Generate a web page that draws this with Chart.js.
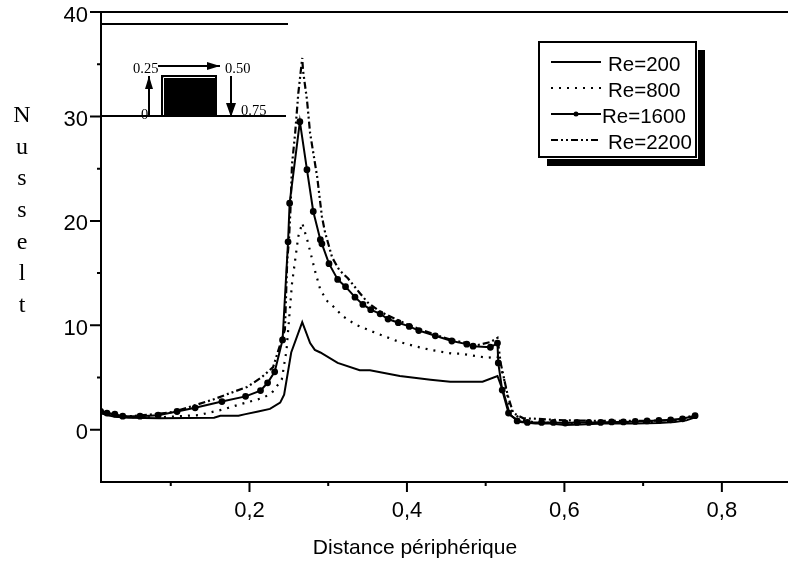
<!DOCTYPE html>
<html>
<head>
<meta charset="utf-8">
<style>body{margin:0;background:#fff}canvas{display:block}</style>
<script src="https://cdn.jsdelivr.net/npm/chart.js@4"></script>
</head>
<body>
<canvas id="myChart" width="788" height="563"></canvas>
<script>
// values
const seriesNames = ['Re=200', 'Re=800', 'Re=1600', 'Re=2200'];

const x200 = [.011,.019,.029,.046,.086,.155,.163,.186,.195,.211,.226,.239,.244,.253,.267,.277,.283,.290,.312,.340,.353,.391,.430,.455,.496,.515,.523,.531,.544,.563,.581,.601,.621,.650,.690,.720,.740,.755,.766];
const y200 = [1.6,1.4,1.25,1.15,1.1,1.15,1.34,1.35,1.5,1.75,2.0,2.6,3.35,7.4,10.3,8.3,7.65,7.4,6.4,5.7,5.7,5.15,4.8,4.6,4.6,5.15,3.5,1.4,.75,.6,.6,.45,.5,.6,.6,.65,.75,.9,1.2];

const x800 = [.011,.019,.029,.046,.086,.135,.164,.191,.217,.228,.241,.247,.254,.262,.267,.274,.284,.290,.299,.308,.318,.334,.356,.373,.391,.410,.430,.457,.467,.502,.515,.523,.531,.544,.563,.601,.650,.700,.740,.766];
const y800 = [1.7,1.45,1.3,1.2,1.2,1.4,1.9,2.5,3.05,3.5,4.8,7.6,14,18.5,19.8,18,15,13.4,12.3,11.7,10.9,10.1,9.4,8.9,8.4,8,7.65,7.3,7.3,6.9,7,5,2,1,.7,.6,.7,.7,.85,1.25];

const x1600 = [.011,.019,.029,.039,.061,.084,.108,.131,.165,.195,.214,.223,.232,.242,.249,.251,.264,.273,.281,.290,.292,.301,.312,.322,.334,.344,.354,.366,.376,.389,.403,.415,.436,.457,.476,.484,.506,.515,.516,.521,.529,.540,.553,.571,.586,.601,.616,.631,.646,.660,.675,.690,.705,.720,.735,.750,.766];
const y1600 = [1.75,1.6,1.5,1.3,1.3,1.4,1.75,2.1,2.7,3.2,3.75,4.5,5.55,8.6,18,21.7,29.5,24.9,20.9,18.2,17.8,15.9,14.4,13.7,12.7,12,11.5,11.1,10.6,10.25,9.9,9.5,9,8.5,8.2,8,7.9,8.3,6.4,3.8,1.6,.85,.7,.7,.7,.65,.7,.7,.7,.75,.75,.8,.85,.9,.95,1.05,1.35];

const x2200 = [.011,.019,.029,.039,.074,.103,.133,.154,.175,.197,.215,.230,.245,.248,.250,.252,.254,.258,.262,.267,.268,.273,.277,.286,.292,.296,.305,.314,.325,.340,.350,.366,.403,.436,.457,.489,.506,.515,.519,.528,.535,.548,.565,.601,.650,.700,.740,.766];
const y2200 = [1.8,1.6,1.45,1.25,1.45,1.7,2.4,2.9,3.5,4.1,5,6,9.6,16.3,18,21,25.4,28.4,32.2,35.6,34.4,31.6,28.4,24.2,20.4,18.9,16.5,15.3,14.5,13.1,12.2,11.3,10,9.1,8.6,8.1,8.4,8.8,6.4,3.3,1.6,1.1,1.05,.9,.85,.85,.9,1.4];

const xTicks = [.1,.2,.3,.4,.5,.6,.7,.8];
const xTickLabels = ['','0,2','','0,4','','0,6','','0,8'];
const yTicks = [-5,0,5,10,15,20,25,30,35,40];
const yTickLabels = ['','0','','10','','20','','30','','40'];
const yTitleLetters = ['N','u','s','s','e','l','t'];
const xTitle = 'Distance périphérique';
const sans = 'Liberation Sans';
const serif = 'Liberation Serif';

function pts(xs, ys) {
    return xs.map((x, i) => ({x: x, y: ys[i]}));
}

function arrow(c, x1, y1, x2, y2, w, h) {
    const a = Math.atan2(y2 - y1, x2 - x1);
    c.beginPath();
    c.moveTo(x1, y1);
    c.lineTo(x2, y2);
    c.stroke();
    c.save();
    c.translate(x2, y2);
    c.rotate(a);
    c.beginPath();
    c.moveTo(0, 0);
    c.lineTo(-h, -w / 2);
    c.lineTo(-h, w / 2);
    c.closePath();
    c.fill();
    c.restore();
}

// axis ticks of two lengths, top line, inset sketch, legend box and both titles
const decorations = {
    id: 'decorations',
    afterDraw(chart) {
        const c = chart.ctx;
        const area = chart.chartArea;
        const sx = chart.scales.x;
        const sy = chart.scales.y;
        c.save();
        c.strokeStyle = '#000';
        c.fillStyle = '#000';
        c.lineWidth = 2;

        c.beginPath();
        c.moveTo(90, area.top);
        c.lineTo(area.right, area.top);
        xTicks.forEach((v, i) => {
            const px = sx.getPixelForValue(v);
            c.moveTo(px, area.bottom);
            c.lineTo(px, area.bottom + (xTickLabels[i] ? 10 : 4));
        });
        yTicks.forEach((v, i) => {
            if (i === 0) return;
            const py = sy.getPixelForValue(v);
            c.moveTo(area.left, py);
            c.lineTo(area.left - (yTickLabels[i] ? 11 : 4), py);
        });
        // long lines of the inset
        c.moveTo(area.left, 24);
        c.lineTo(288, 24);
        c.moveTo(area.left, 116);
        c.lineTo(286, 116);
        c.stroke();

        // inset block
        c.fillRect(161, 75, 56, 41);
        c.strokeStyle = '#fff';
        c.lineWidth = 1;
        c.beginPath();
        c.moveTo(163.5, 115);
        c.lineTo(163.5, 77.5);
        c.lineTo(215, 77.5);
        c.stroke();

        c.strokeStyle = '#000';
        c.lineWidth = 2;
        arrow(c, 149, 115, 149, 76, 8, 13);
        arrow(c, 158, 66, 220, 66, 8, 13);
        arrow(c, 231, 76, 231, 117, 10, 14);

        c.font = '14.5px "' + serif + '"';
        c.textBaseline = 'middle';
        c.textAlign = 'left';
        c.fillText('0.25', 133, 69);
        c.fillText('0.50', 225, 69);
        c.fillText('0', 141, 115);
        c.fillText('0.75', 241, 111);

        // y tick labels sit a little under their ticks in the reference
        c.font = '22px "' + sans + '"';
        c.textAlign = 'right';
        yTicks.forEach((v, i) => c.fillText(yTickLabels[i], 88, sy.getPixelForValue(v) + 3.5));

        // titles
        c.font = '24px "' + serif + '"';
        c.textAlign = 'center';
        yTitleLetters.forEach((l, i) => c.fillText(l, 22, 116 + i * 31.6));
        c.font = '21px "' + sans + '"';
        c.fillText(xTitle, 415, 548);

        // legend box with its shadow
        c.fillRect(547, 159, 158, 7);
        c.fillRect(698, 50, 7, 116);
        c.fillStyle = '#fff';
        c.fillRect(539, 42, 157, 115);
        c.strokeStyle = '#000';
        c.lineWidth = 2;
        c.strokeRect(539, 42, 157, 115);

        const rows = [62, 88, 114, 140];
        const labelX = [608, 608, 602, 608];
        chart.data.datasets.forEach((ds, i) => {
            c.beginPath();
            c.lineWidth = ds.borderWidth;
            c.setLineDash(ds.borderDash || []);
            c.moveTo(551, rows[i]);
            c.lineTo(601, rows[i]);
            c.stroke();
            c.setLineDash([]);
            if (ds.pointRadius) {
                c.fillStyle = '#000';
                c.beginPath();
                c.arc(576, rows[i], 2.5, 0, Math.PI * 2);
                c.fill();
            }
            c.fillStyle = '#000';
            c.font = '20.5px "' + sans + '"';
            c.textAlign = 'left';
            c.fillText(ds.label, labelX[i], rows[i] + 3);
        });
        c.restore();
    }
};

const black = '#000';
const ctx = document.getElementById('myChart').getContext('2d');

const myChart = new Chart(ctx, {
    type: 'line',
    data: {
        datasets: [
            {label: seriesNames[0], data: pts(x200, y200), borderColor: black, borderWidth: 2, pointRadius: 0},
            {label: seriesNames[1], data: pts(x800, y800), borderColor: black, borderWidth: 2.2, borderDash: [2, 6], pointRadius: 0},
            {label: seriesNames[2], data: pts(x1600, y1600), borderColor: black, borderWidth: 2, pointRadius: 2.4, pointBackgroundColor: black, pointBorderColor: black},
            {label: seriesNames[3], data: pts(x2200, y2200), borderColor: black, borderWidth: 2.2, borderDash: [7, 3, 2, 3, 2, 3], pointRadius: 0}
        ]
    },
    options: {
        responsive: false,
        animation: false,
        layout: {autoPadding: false, padding: {top: 12, right: 0, left: 0, bottom: 0}},
        datasets: {line: {tension: 0, fill: false}},
        plugins: {legend: {display: false}, tooltip: {enabled: false}},
        scales: {
            x: {
                type: 'linear',
                min: .0114,
                max: .884,
                afterBuildTicks: s => { s.ticks = xTicks.map(v => ({value: v})); },
                afterFit: s => { s.height = 81; s.paddingLeft = 0; s.paddingRight = 0; },
                grid: {display: false, drawTicks: false},
                border: {display: true, color: black, width: 2},
                ticks: {
                    autoSkip: false,
                    maxRotation: 0,
                    padding: 16,
                    color: black,
                    font: {family: sans, size: 22},
                    callback: (v, i) => xTickLabels[i]
                }
            },
            y: {
                min: -5,
                max: 40,
                afterBuildTicks: s => { s.ticks = yTicks.map(v => ({value: v})); },
                afterFit: s => { s.width = 101; s.paddingTop = 0; s.paddingBottom = 0; },
                grid: {display: false, drawTicks: false},
                border: {display: true, color: black, width: 2},
                ticks: {display: false}
            }
        }
    },
    plugins: [decorations]
});
</script>
</body>
</html>
